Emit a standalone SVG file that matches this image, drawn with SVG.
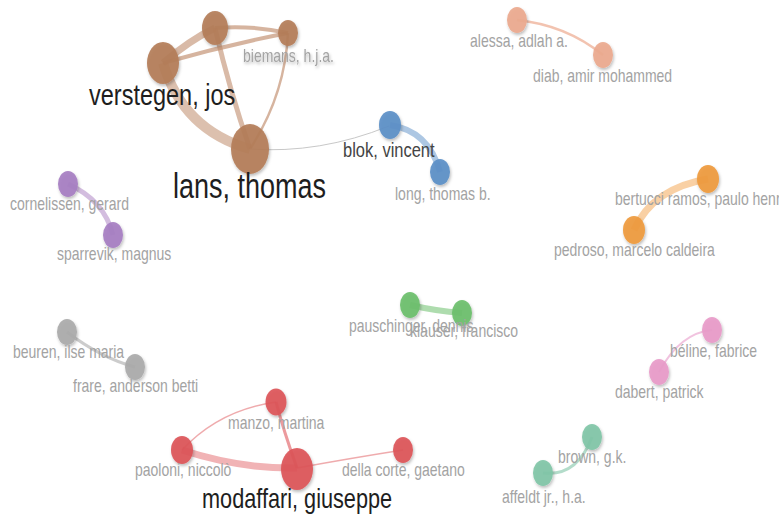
<svg xmlns="http://www.w3.org/2000/svg" width="779" height="517" viewBox="0 0 779 517">
<defs>
<filter id="sh" x="-50%" y="-50%" width="200%" height="200%"><feDropShadow dx="1" dy="2" stdDeviation="1.6" flood-color="#000" flood-opacity="0.28"/></filter>
</defs>
<style>
.e{fill:none;stroke-linecap:butt}
.n{filter:url(#sh)}
text{font-family:"Liberation Sans",Arial,sans-serif}
.s{font-size:14px;fill:#a3a3a3}
.big{fill:#1e1e1e}
</style>
<rect width="779" height="517" fill="#fff"/>
<g id="connectors">
<path class="e" d="M163,63 Q183,130 250,149" stroke="#c08c6c" stroke-opacity=".55" stroke-width="10"/>
<path class="e" d="M163,63 Q190,40 215,28" stroke="#c08c6c" stroke-opacity=".6" stroke-width="7"/>
<path class="e" d="M163,63 Q226,45 288,33" stroke="#c08c6c" stroke-opacity=".65" stroke-width="4"/>
<path class="e" d="M215,28 Q252,25 288,33" stroke="#c08c6c" stroke-opacity=".65" stroke-width="4"/>
<path class="e" d="M215,28 Q230,92 250,149" stroke="#c08c6c" stroke-opacity=".6" stroke-width="5"/>
<path class="e" d="M288,33 Q285,95 250,149" stroke="#c08c6c" stroke-opacity=".65" stroke-width="2.5"/>
<path class="e" d="M250,149 Q320,154 389,126" stroke="#c8c8c8" stroke-width="1"/>
<path class="e" d="M390,125 Q429,131 440,172" stroke="#5b8fc7" stroke-opacity=".5" stroke-width="6"/>
<path class="e" d="M517,20 Q566,25 603,55" stroke="#eca98e" stroke-opacity=".7" stroke-width="2.5"/>
<path class="e" d="M634,230 Q653,188 708,179" stroke="#f3a24a" stroke-opacity=".5" stroke-width="7"/>
<path class="e" d="M68,184 Q104,200 113,235" stroke="#a77cc0" stroke-opacity=".5" stroke-width="5"/>
<path class="e" d="M410,305 Q436,311 462,313" stroke="#6bbf6b" stroke-opacity=".55" stroke-width="6"/>
<path class="e" d="M67,332 Q101,358 135,367" stroke="#aaaaaa" stroke-opacity=".6" stroke-width="3"/>
<path class="e" d="M712,330 Q680,333 659,372" stroke="#e89bc9" stroke-opacity=".6" stroke-width="2"/>
<path class="e" d="M182,450 Q240,469 297,468" stroke="#e0575b" stroke-opacity=".45" stroke-width="7"/>
<path class="e" d="M182,450 Q219,410 276,402" stroke="#e0575b" stroke-opacity=".5" stroke-width="1.5"/>
<path class="e" d="M276,402 Q284,432 297,468" stroke="#e0575b" stroke-opacity=".6" stroke-width="3"/>
<path class="e" d="M297,468 Q352,458 403,450" stroke="#e0575b" stroke-opacity=".5" stroke-width="1.5"/>
<path class="e" d="M543,473 Q577,477 592,437" stroke="#80c5a7" stroke-opacity=".6" stroke-width="3"/>
</g>
<g id="node-top" class="n"><ellipse cx="215" cy="28" rx="13" ry="17" fill="#b47d59" fill-opacity=".92"/></g>
<g id="node-biemans" class="n"><ellipse cx="288" cy="33" rx="10" ry="13" fill="#b47d59" fill-opacity=".92"/><text class="s" transform="translate(243,62) scale(1,1.25)">biemans, h.j.a.</text></g>
<g id="node-verstegen" class="n"><ellipse cx="163" cy="63" rx="16" ry="21" fill="#b47d59" fill-opacity=".92"/></g>
<g id="node-lans" class="n"><ellipse cx="250" cy="149" rx="19" ry="25" fill="#b47d59" fill-opacity=".92"/></g>
<g id="node-blok" class="n"><ellipse cx="390" cy="125" rx="11" ry="14" fill="#5b8fc7" fill-opacity=".92"/></g>
<g id="node-long" class="n"><ellipse cx="440" cy="172" rx="10" ry="13" fill="#5b8fc7" fill-opacity=".92"/></g>
<g id="node-alessa" class="n"><ellipse cx="517" cy="20" rx="10" ry="13" fill="#eca98e" fill-opacity=".92"/></g>
<g id="node-diab" class="n"><ellipse cx="603" cy="55" rx="10" ry="13" fill="#eca98e" fill-opacity=".92"/></g>
<g id="node-bertucci" class="n"><ellipse cx="708" cy="179" rx="11" ry="14" fill="#ef9a3c" fill-opacity=".92"/></g>
<g id="node-pedroso" class="n"><ellipse cx="634" cy="230" rx="11" ry="14" fill="#ef9a3c" fill-opacity=".92"/></g>
<g id="node-cornelissen" class="n"><ellipse cx="68" cy="184" rx="10" ry="13" fill="#a67ec2" fill-opacity=".92"/></g>
<g id="node-sparrevik" class="n"><ellipse cx="113" cy="235" rx="10" ry="13" fill="#a67ec2" fill-opacity=".92"/></g>
<g id="node-pauschinger" class="n"><ellipse cx="410" cy="305" rx="10" ry="13" fill="#6bbf6b" fill-opacity=".92"/></g>
<g id="node-klauser" class="n"><ellipse cx="462" cy="313" rx="10" ry="13" fill="#6bbf6b" fill-opacity=".92"/></g>
<g id="node-beuren" class="n"><ellipse cx="67" cy="332" rx="10" ry="13" fill="#aaaaaa" fill-opacity=".92"/></g>
<g id="node-frare" class="n"><ellipse cx="135" cy="367" rx="10" ry="13" fill="#aaaaaa" fill-opacity=".92"/></g>
<g id="node-beline" class="n"><ellipse cx="712" cy="330" rx="10" ry="13" fill="#e89bc9" fill-opacity=".92"/></g>
<g id="node-dabert" class="n"><ellipse cx="659" cy="372" rx="10" ry="13" fill="#e89bc9" fill-opacity=".92"/></g>
<g id="node-manzo" class="n"><ellipse cx="276" cy="402" rx="10.5" ry="13.5" fill="#dc5559" fill-opacity=".92"/></g>
<g id="node-paoloni" class="n"><ellipse cx="182" cy="450" rx="11" ry="14" fill="#dc5559" fill-opacity=".92"/></g>
<g id="node-dellacorte" class="n"><ellipse cx="403" cy="450" rx="10" ry="13" fill="#dc5559" fill-opacity=".92"/></g>
<g id="node-modaffari" class="n"><ellipse cx="297" cy="469" rx="16" ry="21" fill="#dc5559" fill-opacity=".92"/></g>
<g id="node-brown" class="n"><ellipse cx="592" cy="437" rx="10" ry="13" fill="#80c5a7" fill-opacity=".92"/></g>
<g id="node-affeldt" class="n"><ellipse cx="543" cy="473" rx="10" ry="13" fill="#80c5a7" fill-opacity=".92"/></g>
<g id="labels">
<text class="big" font-size="23.5" transform="translate(89,105) scale(1,1.25)">verstegen, jos</text>
<text class="big" font-size="27" transform="translate(173,198) scale(1,1.3)">lans, thomas</text>
<text font-size="16.5" fill="#444" transform="translate(343,157) scale(1,1.25)">blok, vincent</text>
<text class="s" transform="translate(395,200) scale(1,1.25)">long, thomas b.</text>
<text class="s" transform="translate(470,47) scale(1,1.25)">alessa, adlah a.</text>
<text class="s" transform="translate(533,82) scale(1,1.25)">diab, amir mohammed</text>
<text class="s" transform="translate(615,205) scale(1,1.25)">bertucci ramos, paulo henri</text>
<text class="s" transform="translate(554,256) scale(1,1.25)">pedroso, marcelo caldeira</text>
<text class="s" transform="translate(10,210) scale(1,1.25)">cornelissen, gerard</text>
<text class="s" transform="translate(57,260) scale(1,1.25)">sparrevik, magnus</text>
<text class="s" transform="translate(349,332) scale(1,1.25)">pauschinger, dennis</text>
<text class="s" transform="translate(410,337) scale(1,1.25)">klauser, francisco</text>
<text class="s" transform="translate(13,358) scale(1,1.25)">beuren, ilse maria</text>
<text class="s" transform="translate(73,392) scale(1,1.25)">frare, anderson betti</text>
<text class="s" transform="translate(670,357) scale(1,1.25)">béline, fabrice</text>
<text class="s" transform="translate(615,398) scale(1,1.25)">dabert, patrick</text>
<text class="s" transform="translate(228,429) scale(1,1.25)">manzo, martina</text>
<text class="s" transform="translate(135,476) scale(1,1.25)">paoloni, niccolò</text>
<text class="s" transform="translate(342,476) scale(1,1.25)">della corte, gaetano</text>
<text class="big" font-size="21.7" transform="translate(202,508) scale(1,1.3)">modaffari, giuseppe</text>
<text class="s" transform="translate(558,463) scale(1,1.25)">brown, g.k.</text>
<text class="s" transform="translate(502,503) scale(1,1.25)">affeldt jr., h.a.</text>
</g>
</svg>
